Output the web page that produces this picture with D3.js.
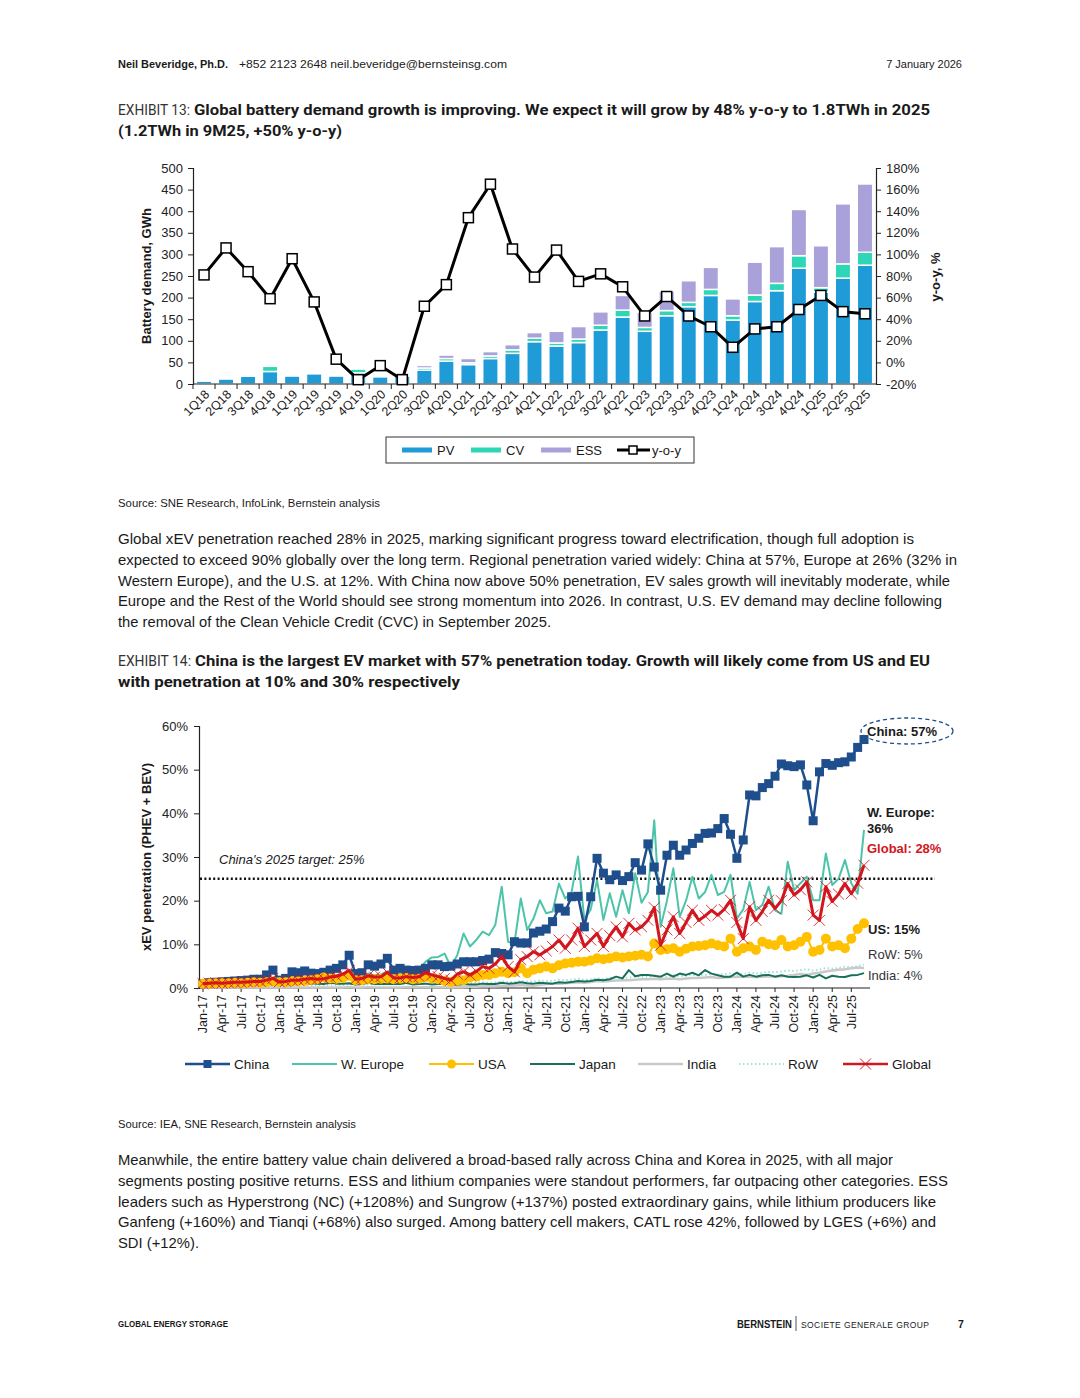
<!DOCTYPE html>
<html lang="en">
<head>
<meta charset="utf-8">
<title>Global battery demand / EV penetration</title>
<script src="https://d3js.org/d3.v7.min.js"></script>
<style>
  body { margin: 0; background: #fff; }
  svg text { font-family: "Liberation Sans", Arial, sans-serif; fill: #1a1a1a; }
</style>
</head>
<body>
<div id="page"></div>
<script>
// ---- Exhibit 13 data (GWh per quarter, y-o-y %)
var quarters = ["1Q18","2Q18","3Q18","4Q18","1Q19","2Q19","3Q19","4Q19","1Q20","2Q20","3Q20","4Q20",
  "1Q21","2Q21","3Q21","4Q21","1Q22","2Q22","3Q22","4Q22","1Q23","2Q23","3Q23","4Q23",
  "1Q24","2Q24","3Q24","4Q24","1Q25","2Q25","3Q25"];
var pv  = [7,12,18,29,19,24,19,26,17,19,32,53,45,59,71,98,88,96,125,155,122,158,179,205,148,191,216,268,213,245,275];
var cv  = [0,3,3,12,1,3,1,9,1,4,5,6,4,6,8,8,7,8,11,16,9,12,10,14,10,15,17,29,10,33,30];
var ess = [1,2,1,1,0,1,1,1,1,4,6,8,10,10,12,13,27,29,31,34,35,45,50,51,39,76,85,107,97,139,158];
var yoy = [81,106,84,59,96,56,3,-16,-3,-16,52,72,134,165,105,79,104,75,82,70,43,61,43,33,14,31,33,49,62,47,45];
var leftTicks = [0,50,100,150,200,250,300,350,400,450,500];
var rightTicks = [-20,0,20,40,60,80,100,120,140,160,180];

// ---- Exhibit 14 data (monthly xEV share %, Jan-17 .. Sep-25)
var monthTicks = ["Jan-17","Apr-17","Jul-17","Oct-17","Jan-18","Apr-18","Jul-18","Oct-18","Jan-19","Apr-19",
  "Jul-19","Oct-19","Jan-20","Apr-20","Jul-20","Oct-20","Jan-21","Apr-21","Jul-21","Oct-21","Jan-22","Apr-22",
  "Jul-22","Oct-22","Jan-23","Apr-23","Jul-23","Oct-23","Jan-24","Apr-24","Jul-24","Oct-24","Jan-25","Apr-25","Jul-25"];
var pctTicks = [0,10,20,30,40,50,60];
var china = [1.0,1.2,1.3,1.4,1.5,1.6,1.7,1.8,2.0,2.0,3.0,4.1,
  1.8,2.2,3.7,3.5,3.9,3.4,3.3,3.6,4.1,4.5,5.3,7.5,
  3.3,3.5,5.3,5.0,5.5,6.8,4.1,4.5,4.1,4.0,4.1,4.5,
  5.3,5.3,4.9,5.0,5.5,6.0,6.0,6.0,6.3,6.6,8.1,7.9,
  7.6,10.6,10.3,10.3,12.6,13.0,13.5,15.2,18.3,17.6,20.9,21.0,
  14.0,20.9,29.7,26.3,24.8,25.9,24.6,25.5,28.7,27.0,33.0,27.7,
  22.4,30.4,32.7,30.4,31.6,33.1,34.3,35.4,35.5,36.5,38.8,35.2,
  29.7,33.9,44.2,44.0,45.9,46.8,48.5,51.3,50.9,50.7,51.1,46.5,
  38.3,49.5,51.4,51.0,51.6,51.8,52.9,55.1,56.9];
var weu = [1.3,1.4,1.8,1.4,1.5,1.9,1.5,1.5,2.1,1.7,1.8,2.3,
  1.8,1.9,2.4,1.9,2.0,2.6,2.1,2.3,2.5,2.3,2.6,3.0,
  2.6,2.8,3.3,2.9,3.1,3.8,3.2,3.3,4.0,3.6,4.3,6.0,
  7.0,7.1,7.9,4.9,7.5,12.5,9.5,11.0,12.9,12.1,14.5,23.2,
  10.6,10.2,20.5,13.3,15.9,20.1,17.1,17.5,23.9,20.5,22.0,30.1,
  15.6,18.0,24.7,15.6,21.7,16.3,22.4,17.1,26.3,19.5,22.0,38.4,
  14.0,20.0,27.4,16.3,20.0,25.5,20.5,22.0,25.9,21.3,22.0,25.9,
  15.9,18.0,24.3,17.8,19.0,23.2,17.8,17.0,28.9,22.4,24.0,25.5,
  20.1,20.1,30.8,23.6,25.0,29.3,24.0,21.6,36.2];
var usa = [1.0,1.0,1.1,1.1,1.1,1.2,1.1,1.2,1.3,1.2,1.3,1.5,
  1.3,1.3,1.5,1.5,1.6,1.8,2.0,2.4,2.2,2.1,2.3,2.8,
  1.8,1.8,2.0,2.0,2.1,2.2,2.0,2.1,2.3,2.0,2.1,2.5,
  2.2,2.0,1.6,1.4,1.6,1.8,2.4,2.6,3.0,3.0,3.4,3.7,
  3.4,3.6,4.5,3.4,4.2,4.5,4.9,4.5,5.2,5.6,5.8,6.0,
  6.0,6.3,6.8,6.6,6.8,7.2,7.0,7.2,7.4,7.6,7.2,10.2,
  8.7,8.9,9.1,8.3,9.0,9.5,9.6,9.8,10.2,9.8,9.5,11.3,
  8.3,9.1,9.5,8.7,10.6,10.0,9.8,11.0,9.5,9.8,10.6,11.7,
  8.3,8.7,11.3,9.5,9.8,9.1,11.3,13.5,14.8];
var japan = [0.6,0.8,1.2,0.7,0.8,1.0,0.9,0.8,1.2,0.9,1.0,1.1,
  0.8,0.9,1.3,1.0,1.0,1.1,1.0,0.9,1.2,1.0,1.0,1.1,
  0.8,0.9,1.2,0.9,0.9,1.0,0.9,0.9,1.2,0.8,0.9,1.0,
  0.8,0.9,1.0,0.8,0.7,0.9,0.8,0.8,1.0,0.9,0.9,1.2,
  1.0,1.1,1.3,1.1,1.0,1.2,1.1,1.0,1.3,1.2,1.4,1.6,
  1.5,1.6,1.9,1.8,2.0,2.6,2.2,4.1,2.7,3.0,3.0,2.8,
  2.6,3.3,2.6,3.3,3.0,3.5,2.9,4.1,3.3,2.9,2.6,2.6,
  3.5,2.6,3.0,2.6,2.9,3.0,2.6,2.9,2.6,2.5,2.6,2.9,
  2.4,3.0,2.2,2.8,2.6,2.5,2.9,3.0,3.4];
var india = [0.1,0.1,0.1,0.1,0.1,0.1,0.1,0.1,0.1,0.1,0.1,0.1,
  0.1,0.1,0.1,0.1,0.1,0.1,0.1,0.1,0.1,0.1,0.1,0.2,
  0.1,0.1,0.2,0.1,0.1,0.1,0.1,0.1,0.2,0.2,0.2,0.2,
  0.2,0.2,0.2,0.1,0.2,0.2,0.3,0.3,0.4,0.4,0.4,0.5,
  0.5,0.6,0.7,0.6,0.5,0.7,0.9,1.0,1.0,1.1,1.2,1.3,
  1.2,1.4,1.6,1.5,1.6,1.7,1.8,1.8,1.9,2.0,2.0,2.1,
  2.0,2.1,2.2,2.0,2.2,2.3,2.3,2.4,2.5,2.3,2.4,2.5,
  2.5,2.6,2.6,2.5,2.6,2.7,2.6,2.7,2.8,3.0,3.2,3.0,
  3.3,3.5,3.8,4.0,4.2,4.3,4.5,4.7,4.6];
var row = [0.3,0.3,0.4,0.3,0.4,0.4,0.4,0.4,0.5,0.4,0.5,0.6,
  0.5,0.5,0.6,0.5,0.6,0.6,0.6,0.6,0.7,0.7,0.7,0.8,
  0.7,0.7,0.8,0.8,0.8,0.9,0.8,0.9,1.0,0.9,1.0,1.1,
  1.0,1.0,1.1,1.0,1.1,1.2,1.1,1.2,1.3,1.2,1.3,1.5,
  1.3,1.4,1.6,1.5,1.5,1.7,1.6,1.7,1.9,1.8,1.9,2.1,
  1.9,2.0,2.2,2.1,2.2,2.4,2.3,2.4,2.6,2.5,2.6,2.8,
  2.4,2.6,2.9,2.7,2.8,3.0,2.9,3.0,3.2,3.1,3.2,3.4,
  3.0,3.2,3.5,3.3,3.5,3.7,3.6,3.8,4.0,3.9,4.1,4.3,
  4.0,4.2,4.6,4.4,4.6,4.9,4.8,5.0,5.3];
var globalEv = [1.0,1.1,1.2,1.1,1.2,1.3,1.3,1.4,1.5,1.5,1.8,2.2,
  1.4,1.5,1.8,1.8,2.0,2.2,2.0,2.1,2.5,2.7,3.2,4.0,
  2.0,2.2,2.8,2.5,2.6,3.6,2.3,2.3,2.6,2.4,2.6,3.5,
  3.0,2.6,2.2,1.8,3.2,3.7,3.0,3.8,4.9,4.5,5.5,7.2,
  4.9,3.7,6.5,7.2,8.3,7.6,8.5,9.5,11.0,9.1,11.0,13.7,
  9.5,11.0,12.5,9.5,12.0,14.0,11.7,14.8,13.3,14.0,15.5,18.4,
  9.8,13.3,16.3,12.5,15.0,17.8,15.5,16.5,17.8,16.7,18.0,20.1,
  15.0,11.3,18.6,15.5,17.5,20.1,18.2,20.0,23.9,21.3,22.5,24.3,
  16.7,15.5,23.2,19.8,21.5,23.9,21.6,24.0,28.1];

var W = 1080, H = 1398;
var svg = d3.select("#page").append("svg").attr("width", W).attr("height", H);

// text helper, fits a line to a measured width when asked
function txt(x, y, s, o) {
  o = o || {};
  var t = svg.append("text").attr("x", x).attr("y", y).text(s)
    .attr("font-size", o.size || 14)
    .attr("font-weight", o.weight || "normal");
  if (o.family) t.style("font-family", o.family);
  if (o.anchor) t.attr("text-anchor", o.anchor);
  if (o.fill) t.style("fill", o.fill);
  if (o.italic) t.attr("font-style", "italic");
  if (o.len) t.attr("textLength", o.len).attr("lengthAdjust", o.adj || "spacingAndGlyphs");
  return t;
}

// header
txt(118, 68, "Neil Beveridge, Ph.D.", {size: 11, weight: "bold", len: 110});
txt(239, 68, "+852 2123 2648 neil.beveridge@bernsteinsg.com", {size: 11, len: 268});
txt(962, 68, "7 January 2026", {size: 11, anchor: "end"});

// titles
var titleFont = "Roboto, 'Noto Sans', sans-serif";
txt(118, 115, "EXHIBIT 13:", {size: 14.5, family: titleFont, fill: "#333", len: 72});
txt(194, 115, "Global battery demand growth is improving. We expect it will grow by 48% y-o-y to 1.8TWh in 2025",
  {size: 15.5, weight: "bold", family: titleFont, len: 736});
txt(118, 136, "(1.2TWh in 9M25, +50% y-o-y)", {size: 15.5, weight: "bold", family: titleFont, len: 224});

// ============ Exhibit 13 chart
var c1 = svg.append("g");
var xb = d3.scaleBand().domain(quarters).range([193, 876]).paddingInner(0.3).paddingOuter(0.15);
var yl = d3.scaleLinear().domain([0, 500]).range([384, 168]);
var yr = d3.scaleLinear().domain([-20, 180]).range([384, 168]);
var colPV = "#1f9bd7", colCV = "#2dd6b5", colESS = "#a9a1d9";

var stackRows = quarters.map(function(q, i) { return {q: q, pv: pv[i], cv: cv[i], ess: ess[i]}; });
var stacked = d3.stack().keys(["pv", "cv", "ess"])(stackRows);
var colors = {pv: colPV, cv: colCV, ess: colESS};

c1.selectAll("g.layer").data(stacked).enter().append("g")
  .attr("fill", function(d) { return colors[d.key]; })
  .selectAll("rect").data(function(d) { return d; }).enter().append("rect")
  .attr("x", function(d) { return xb(d.data.q); })
  .attr("width", xb.bandwidth())
  .attr("y", function(d) { return yl(d[1]); })
  .attr("height", function(d) { return Math.max(0, yl(d[0]) - yl(d[1])); })
  .attr("stroke", "#fff").attr("stroke-width", 1.5);

// axes
var axL = c1.append("g").attr("transform", "translate(193,0)")
  .call(d3.axisLeft(yl).tickValues(leftTicks).tickSize(5).tickPadding(5));
var axR = c1.append("g").attr("transform", "translate(876,0)")
  .call(d3.axisRight(yr).tickValues(rightTicks).tickSize(5).tickPadding(5)
    .tickFormat(function(d) { return d + "%"; }));
[axL, axR].forEach(function(a) {
  a.select(".domain").attr("stroke", "#222").attr("stroke-width", 1.2);
  a.selectAll(".tick line").attr("stroke", "#222");
  a.selectAll("text").attr("font-size", 13).style("fill", "#222");
});

// x axis with ticks between bars
c1.append("line").attr("x1", 193).attr("x2", 876).attr("y1", 384).attr("y2", 384)
  .attr("stroke", "#222").attr("stroke-width", 1.2);
c1.selectAll("line.qt").data(quarters).enter().append("line")
  .attr("x1", function(d) { return xb(d) - xb.step() * xb.paddingInner() / 2; })
  .attr("x2", function(d) { return xb(d) - xb.step() * xb.paddingInner() / 2; })
  .attr("y1", 384).attr("y2", 389).attr("stroke", "#222");
c1.selectAll("text.ql").data(quarters).enter().append("text")
  .attr("transform", function(d) { return "translate(" + (xb(d) + xb.bandwidth() / 2 + 3) + ",392) rotate(-45)"; })
  .attr("text-anchor", "end").attr("dy", "0.35em").attr("font-size", 12.5)
  .text(function(d) { return d; });

// y-o-y line
var line1 = d3.line().x(function(d, i) { return xb(quarters[i]) + xb.bandwidth() / 2; })
  .y(function(d) { return yr(d); });
c1.append("path").datum(yoy).attr("d", line1).attr("fill", "none")
  .attr("stroke", "#000").attr("stroke-width", 3).attr("stroke-linejoin", "round");
c1.selectAll("rect.mk").data(yoy).enter().append("rect")
  .attr("x", function(d, i) { return xb(quarters[i]) + xb.bandwidth() / 2 - 5; })
  .attr("y", function(d) { return yr(d) - 5; })
  .attr("width", 10).attr("height", 10)
  .attr("fill", "#fff").attr("stroke", "#000").attr("stroke-width", 1.5);

// axis titles
svg.append("text").attr("transform", "translate(151,276) rotate(-90)").attr("text-anchor", "middle")
  .attr("font-size", 13).attr("font-weight", "bold").text("Battery demand, GWh");
svg.append("text").attr("transform", "translate(940,277) rotate(-90)").attr("text-anchor", "middle")
  .attr("font-size", 13).attr("font-weight", "bold").text("y-o-y, %");

// legend box
var lg1 = svg.append("g");
lg1.append("rect").attr("x", 386).attr("y", 437).attr("width", 308).attr("height", 26)
  .attr("fill", "#fff").attr("stroke", "#333").attr("stroke-width", 1);
[["PV", colPV, 402, 437], ["CV", colCV, 471, 506], ["ESS", colESS, 541, 576]].forEach(function(it) {
  lg1.append("rect").attr("x", it[2]).attr("y", 447.5).attr("width", 30).attr("height", 5).attr("fill", it[1]);
  lg1.append("text").attr("x", it[3]).attr("y", 455).attr("font-size", 13).text(it[0]);
});
lg1.append("line").attr("x1", 617).attr("x2", 650).attr("y1", 450).attr("y2", 450)
  .attr("stroke", "#000").attr("stroke-width", 3);
lg1.append("rect").attr("x", 629).attr("y", 446).attr("width", 8).attr("height", 8)
  .attr("fill", "#fff").attr("stroke", "#000").attr("stroke-width", 1.5);
lg1.append("text").attr("x", 652).attr("y", 455).attr("font-size", 13).text("y-o-y");

txt(118, 507, "Source: SNE Research, InfoLink, Bernstein analysis", {size: 11, len: 262});

// paragraph 1
var para1 = [
  ["Global xEV penetration reached 28% in 2025, marking significant progress toward electrification, though full adoption is", 796],
  ["expected to exceed 90% globally over the long term. Regional penetration varied widely: China at 57%, Europe at 26% (32% in", 839],
  ["Western Europe), and the U.S. at 12%. With China now above 50% penetration, EV sales growth will inevitably moderate, while", 832],
  ["Europe and the Rest of the World should see strong momentum into 2026. In contrast, U.S. EV demand may decline following", 824],
  ["the removal of the Clean Vehicle Credit (CVC) in September 2025.", 433]
];
para1.forEach(function(p, i) { txt(118, 544 + i * 20.8, p[0], {size: 14.5, len: p[1], fill: "#1a1a1a"}); });

txt(118, 666, "EXHIBIT 14:", {size: 14.5, family: titleFont, fill: "#333", len: 73});
txt(195, 666, "China is the largest EV market with 57% penetration today. Growth will likely come from US and EU",
  {size: 15.5, weight: "bold", family: titleFont, len: 735});
txt(118, 687, "with penetration at 10% and 30% respectively", {size: 15.5, weight: "bold", family: titleFont, len: 342});

// ============ Exhibit 14 chart
var c2 = svg.append("g");
var xm = d3.scaleLinear().domain([0, china.length - 1]).range([203, 864]);
var yp = d3.scaleLinear().domain([0, 60]).range([988, 726]);

var axP = c2.append("g").attr("transform", "translate(199,0)")
  .call(d3.axisLeft(yp).tickValues(pctTicks).tickSize(5).tickPadding(6)
    .tickFormat(function(d) { return d + "%"; }));
axP.select(".domain").attr("stroke", "#222").attr("stroke-width", 1.2);
axP.selectAll(".tick line").attr("stroke", "#222");
axP.selectAll("text").attr("font-size", 13).style("fill", "#222");

c2.append("line").attr("x1", 199).attr("x2", 870).attr("y1", 988).attr("y2", 988)
  .attr("stroke", "#222").attr("stroke-width", 1.2);
c2.selectAll("line.mt").data(monthTicks).enter().append("line")
  .attr("x1", function(d, i) { return xm(i * 3); }).attr("x2", function(d, i) { return xm(i * 3); })
  .attr("y1", 988).attr("y2", 992).attr("stroke", "#222");
c2.selectAll("text.ml").data(monthTicks).enter().append("text")
  .attr("transform", function(d, i) { return "translate(" + xm(i * 3) + ",995) rotate(-90)"; })
  .attr("text-anchor", "end").attr("dy", "0.35em").attr("font-size", 12.5)
  .text(function(d) { return d; });

// 2025 target line
c2.append("line").attr("x1", 200).attr("x2", 935).attr("y1", yp(25)).attr("y2", yp(25))
  .attr("stroke", "#111").attr("stroke-width", 2.5).attr("stroke-dasharray", "2,2.4");
txt(219, 864, "China's 2025 target: 25%", {size: 13, italic: true});

var line2 = d3.line().x(function(d, i) { return xm(i); }).y(function(d) { return yp(d); });
function series(data, color, width, dash) {
  var p = c2.append("path").datum(data).attr("d", line2).attr("fill", "none")
    .attr("stroke", color).attr("stroke-width", width).attr("stroke-linejoin", "round");
  if (dash) p.attr("stroke-dasharray", dash);
  return p;
}
var colChina = "#1f4e8c", colWeu = "#4dc4aa", colUs = "#ffc000", colJp = "#17705a",
    colIn = "#c9c9c9", colRow = "#9fe1d9", colGl = "#d2161e";

// drawing order: thin ones first, then China, then US and Global on top
series(row, colRow, 2, "1.5,2.5");
series(india, colIn, 2.5);
series(japan, colJp, 2);
series(weu, colWeu, 2);
series(china, colChina, 2.5);
c2.selectAll("rect.cn").data(china).enter().append("rect")
  .attr("x", function(d, i) { return xm(i) - 4.5; }).attr("y", function(d) { return yp(d) - 4.5; })
  .attr("width", 9).attr("height", 9).attr("fill", colChina);
series(usa, colUs, 2);
c2.selectAll("circle.us").data(usa).enter().append("circle")
  .attr("cx", function(d, i) { return xm(i); }).attr("cy", function(d) { return yp(d); })
  .attr("r", 5).attr("fill", colUs);
series(globalEv, colGl, 3);
var xsym = d3.symbol().type(d3.symbolX).size(80);
c2.selectAll("path.gl").data(globalEv).enter().append("path")
  .attr("d", xsym)
  .attr("transform", function(d, i) { return "translate(" + xm(i) + "," + yp(d) + ")"; })
  .attr("fill", "none").attr("stroke", colGl).attr("stroke-width", 1).attr("stroke-opacity", 0.85);

svg.append("text").attr("transform", "translate(151,857) rotate(-90)").attr("text-anchor", "middle")
  .attr("font-size", 13).attr("font-weight", "bold").text("xEV penetration (PHEV + BEV)");

// end labels
svg.append("ellipse").attr("cx", 907).attr("cy", 731).attr("rx", 46).attr("ry", 13)
  .attr("fill", "none").attr("stroke", colChina).attr("stroke-width", 1.3).attr("stroke-dasharray", "4,3");
txt(867, 736, "China: 57%", {size: 13, weight: "bold"});
txt(867, 817, "W. Europe:", {size: 13, weight: "bold"});
txt(867, 833, "36%", {size: 13, weight: "bold"});
txt(867, 853, "Global: 28%", {size: 13, weight: "bold", fill: colGl});
txt(868, 934, "US: 15%", {size: 13, weight: "bold"});
txt(868, 959, "RoW: 5%", {size: 13, fill: "#333"});
txt(868, 980, "India: 4%", {size: 13, fill: "#333"});

// legend
var lg2 = svg.append("g");
var items = [
  {name: "China", c: colChina, x: 185, w: 2.5, mk: "sq"},
  {name: "W. Europe", c: colWeu, x: 292, w: 2},
  {name: "USA", c: colUs, x: 429, w: 2, mk: "ci"},
  {name: "Japan", c: colJp, x: 530, w: 2},
  {name: "India", c: colIn, x: 638, w: 2.5},
  {name: "RoW", c: colRow, x: 739, w: 2, dash: "1.5,2.5"},
  {name: "Global", c: colGl, x: 843, w: 2.5, mk: "x"}
];
items.forEach(function(it) {
  var l = lg2.append("line").attr("x1", it.x).attr("x2", it.x + 45).attr("y1", 1064).attr("y2", 1064)
    .attr("stroke", it.c).attr("stroke-width", it.w);
  if (it.dash) l.attr("stroke-dasharray", it.dash);
  var mx = it.x + 22.5;
  if (it.mk == "sq") lg2.append("rect").attr("x", mx - 4).attr("y", 1060).attr("width", 8).attr("height", 8).attr("fill", it.c);
  if (it.mk == "ci") lg2.append("circle").attr("cx", mx).attr("cy", 1064).attr("r", 4.5).attr("fill", it.c);
  if (it.mk == "x") lg2.append("path").attr("d", xsym).attr("transform", "translate(" + mx + ",1064)")
    .attr("fill", "none").attr("stroke", it.c).attr("stroke-width", 1);
  lg2.append("text").attr("x", it.x + 49).attr("y", 1069).attr("font-size", 13.5).text(it.name);
});

txt(118, 1128, "Source: IEA, SNE Research, Bernstein analysis", {size: 11, len: 238});

var para2 = [
  ["Meanwhile, the entire battery value chain delivered a broad-based rally across China and Korea in 2025, with all major", 775],
  ["segments posting positive returns. ESS and lithium companies were standout performers, far outpacing other categories. ESS", 830],
  ["leaders such as Hyperstrong (NC) (+1208%) and Sungrow (+137%) posted extraordinary gains, while lithium producers like", 818],
  ["Ganfeng (+160%) and Tianqi (+68%) also surged. Among battery cell makers, CATL rose 42%, followed by LGES (+6%) and", 818],
  ["SDI (+12%).", 81]
];
para2.forEach(function(p, i) { txt(118, 1165 + i * 20.8, p[0], {size: 14.5, len: p[1], fill: "#1a1a1a"}); });

// footer
txt(118, 1327, "GLOBAL ENERGY STORAGE", {size: 8.5, weight: "bold", len: 110});
txt(737, 1328, "BERNSTEIN", {size: 10.5, weight: "bold", len: 55});
svg.append("line").attr("x1", 796).attr("x2", 796).attr("y1", 1316).attr("y2", 1331).attr("stroke", "#555");
txt(801, 1328, "SOCIETE GENERALE GROUP", {size: 8.5, len: 128, adj: "spacing"});
txt(958, 1328, "7", {size: 10.5, weight: "bold"});
</script>
</body>
</html>
